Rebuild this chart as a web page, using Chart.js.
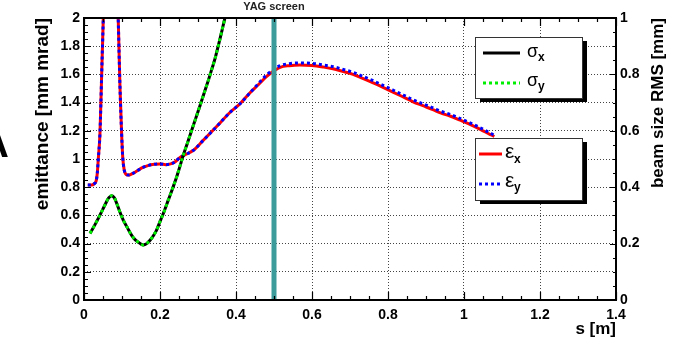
<!DOCTYPE html>
<html>
<head>
<meta charset="utf-8">
<script src="https://cdn.jsdelivr.net/npm/chart.js@4"></script>
<style>
  html, body { margin: 0; padding: 0; background: #fff; }
  #wrap { width: 678px; height: 350px; position: relative; }
</style>
</head>
<body>
<div id="wrap"><canvas id="emitChart"></canvas></div>
<script>
// emittance along the beamline [mm mrad]
var sEps = [0.010, 0.020, 0.027, 0.032, 0.035, 0.0376, 0.042, 0.0466, 0.0508, 0.056,
  0.062, 0.070, 0.078, 0.085, 0.090, 0.0947, 0.099, 0.102, 0.106, 0.111,
  0.117, 0.130, 0.142, 0.155, 0.170, 0.185, 0.200, 0.215, 0.228, 0.240,
  0.252, 0.266, 0.287, 0.313, 0.349, 0.384, 0.410, 0.437, 0.460, 0.480,
  0.500, 0.516, 0.540, 0.568, 0.600, 0.630, 0.655, 0.680, 0.708, 0.735,
  0.761, 0.787, 0.813, 0.840, 0.866, 0.892, 0.918, 0.940, 0.963, 0.990,
  1.024, 1.050, 1.068, 1.080];
var epsX = [0.815, 0.815, 0.825, 0.845, 0.900, 1.000, 1.180, 1.610, 2.000, 2.500,
  2.900, 3.100, 2.900, 2.450, 2.000, 1.510, 1.180, 1.010, 0.920, 0.890,
  0.886, 0.900, 0.920, 0.940, 0.955, 0.962, 0.965, 0.960, 0.965, 0.980,
  1.010, 1.030, 1.060, 1.130, 1.230, 1.330, 1.390, 1.470, 1.530, 1.585,
  1.625, 1.650, 1.662, 1.667, 1.663, 1.652, 1.640, 1.622, 1.600, 1.570,
  1.540, 1.508, 1.475, 1.440, 1.406, 1.378, 1.350, 1.325, 1.305, 1.275,
  1.235, 1.200, 1.175, 1.160];
var epsY = [0.815, 0.815, 0.825, 0.845, 0.900, 1.000, 1.180, 1.610, 2.000, 2.500,
  2.900, 3.100, 2.900, 2.450, 2.000, 1.510, 1.180, 1.010, 0.920, 0.890,
  0.886, 0.900, 0.920, 0.940, 0.955, 0.962, 0.965, 0.960, 0.965, 0.980,
  1.010, 1.030, 1.060, 1.130, 1.230, 1.330, 1.390, 1.470, 1.538, 1.595,
  1.637, 1.662, 1.676, 1.681, 1.678, 1.667, 1.655, 1.637, 1.615, 1.585,
  1.555, 1.522, 1.489, 1.454, 1.420, 1.391, 1.363, 1.338, 1.317, 1.287,
  1.246, 1.211, 1.185, 1.168];

// rms beam size [mm]
var sSig = [0.016, 0.030, 0.042, 0.055, 0.065, 0.073, 0.080, 0.086, 0.095, 0.103,
  0.115, 0.125, 0.135, 0.143, 0.150, 0.156, 0.165, 0.178, 0.190, 0.200,
  0.211, 0.222, 0.233, 0.244, 0.252, 0.261, 0.272, 0.283, 0.294, 0.305,
  0.316, 0.327, 0.336, 0.345, 0.358, 0.371, 0.380];
var sigX = [0.236, 0.270, 0.301, 0.337, 0.362, 0.370, 0.362, 0.343, 0.310, 0.284,
  0.254, 0.230, 0.213, 0.205, 0.198, 0.195, 0.200, 0.219, 0.245, 0.278,
  0.315, 0.355, 0.395, 0.437, 0.472, 0.512, 0.556, 0.600, 0.644, 0.688,
  0.733, 0.778, 0.817, 0.857, 0.927, 1.000, 1.045];
var sigY = [0.236, 0.270, 0.301, 0.337, 0.362, 0.370, 0.362, 0.343, 0.310, 0.284,
  0.254, 0.230, 0.213, 0.205, 0.198, 0.195, 0.200, 0.219, 0.245, 0.278,
  0.315, 0.355, 0.395, 0.437, 0.472, 0.512, 0.556, 0.600, 0.644, 0.688,
  0.733, 0.778, 0.817, 0.857, 0.927, 1.000, 1.045];

var yagPos = 0.5; // YAG screen position [m]

var FONT = '"Liberation Sans", Arial, Helvetica, sans-serif';

function toPoints(xs, ys) {
  return xs.map(function (x, i) { return { x: x, y: ys[i] }; });
}

// ROOT-like labels: 0, 0.2, ... 1, 1.2 (no trailing zeros)
function shortLabel(v) {
  return String(Math.round(v * 10) / 10);
}

var tickFont = { family: FONT, size: 14, weight: 'bold' };
var dottedGrid = { color: '#444', lineWidth: 1, drawTicks: false };

// two framed legend boxes with a drop shadow, ROOT style
var legendBoxes = [
  { x: 475, y: 37, w: 107, h: 61, items: [
    { ds: 0, x1: 483, x2: 520, y: 53, sym: 'σ', sub: 'x', size: 18, tx: 527, base: 57, subx: 538, subBase: 61 },
    { ds: 1, x1: 483, x2: 520, y: 83, sym: 'σ', sub: 'y', size: 18, tx: 527, base: 86, subx: 538, subBase: 90 }
  ] },
  { x: 475, y: 138, w: 107, h: 62, items: [
    { ds: 2, x1: 479, x2: 502, y: 154, sym: 'ε', sub: 'x', size: 21, tx: 505, base: 158, subx: 514, subBase: 163 },
    { ds: 3, x1: 479, x2: 500, y: 184, sym: 'ε', sub: 'y', size: 21, tx: 505, base: 187, subx: 514, subBase: 191 }
  ] }
];

var framePlugin = {
  id: 'rootFrame',
  afterDatasetsDraw: function (chart) {
    var ctx = chart.ctx, a = chart.chartArea;
    var sx = chart.scales.x, sy = chart.scales.y, sy2 = chart.scales.y2;
    var i, p, len;
    ctx.save();

    // screen marker
    var xm = sx.getPixelForValue(yagPos);
    ctx.fillStyle = '#3c9c9c';
    ctx.fillRect(xm - 2.5, a.top, 5, a.bottom - a.top);

    // frame
    ctx.strokeStyle = '#000';
    ctx.lineWidth = 2;
    ctx.strokeRect(a.left, a.top, a.right - a.left, a.bottom - a.top);

    // tick marks pointing inwards
    ctx.lineWidth = 1.2;
    ctx.beginPath();
    for (i = 0; i <= 28; i++) {
      p = Math.round(sx.getPixelForValue(i * 0.05)) + 0.5;
      len = i % 4 === 0 ? 8 : 4;
      ctx.moveTo(p, a.bottom); ctx.lineTo(p, a.bottom - len);
      ctx.moveTo(p, a.top); ctx.lineTo(p, a.top + len);
    }
    for (i = 0; i <= 40; i++) {
      p = Math.round(sy.getPixelForValue(i * 0.05)) + 0.5;
      len = i % 4 === 0 ? 7 : 4;
      ctx.moveTo(a.left, p); ctx.lineTo(a.left + len, p);
    }
    for (i = 0; i <= 20; i++) {
      p = Math.round(sy2.getPixelForValue(i * 0.05)) + 0.5;
      len = i % 4 === 0 ? 6 : 3;
      ctx.moveTo(a.right, p); ctx.lineTo(a.right - len, p);
    }
    ctx.stroke();

    // legends
    legendBoxes.forEach(function (box) {
      ctx.fillStyle = '#000';
      ctx.fillRect(box.x + 5, box.y + 4, box.w, box.h);
      ctx.fillStyle = '#fff';
      ctx.fillRect(box.x, box.y, box.w, box.h);
      ctx.strokeStyle = '#333';
      ctx.lineWidth = 1;
      ctx.strokeRect(box.x + 0.5, box.y + 0.5, box.w, box.h);
      box.items.forEach(function (it) {
        var ds = chart.data.datasets[it.ds];
        ctx.save();
        ctx.strokeStyle = ds.borderColor;
        ctx.lineWidth = ds.borderWidth;
        ctx.setLineDash(ds.borderDash || []);
        ctx.beginPath();
        ctx.moveTo(it.x1, it.y); ctx.lineTo(it.x2, it.y);
        ctx.stroke();
        ctx.restore();
        ctx.fillStyle = '#000';
        ctx.textAlign = 'left';
        ctx.textBaseline = 'alphabetic';
        ctx.font = it.size + 'px ' + FONT;
        ctx.fillText(it.sym, it.tx, it.base);
        ctx.font = 'bold 12px ' + FONT;
        ctx.fillText(it.sub, it.subx, it.subBase);
      });
    });

    // axis titles
    ctx.fillStyle = '#000';
    ctx.textBaseline = 'alphabetic';
    ctx.save();
    ctx.translate(48, a.top);
    ctx.rotate(-Math.PI / 2);
    ctx.textAlign = 'right';
    ctx.font = 'bold 19px ' + FONT;
    ctx.fillText('emittance [mm mrad]', 0, 0);
    ctx.restore();

    ctx.save();
    ctx.translate(663, a.top);
    ctx.rotate(-Math.PI / 2);
    ctx.textAlign = 'right';
    ctx.font = 'bold 17px ' + FONT;
    ctx.fillText('beam size RMS [mm]', 0, 0);
    ctx.restore();

    ctx.textAlign = 'right';
    ctx.font = 'bold 17px ' + FONT;
    ctx.fillText('s [m]', a.right, 334);

    ctx.textAlign = 'center';
    ctx.textBaseline = 'middle';
    ctx.fillStyle = '#222';
    ctx.font = 'bold 11px ' + FONT;
    ctx.fillText('YAG screen', xm, 7);

    // panel letter
    ctx.textAlign = 'left';
    ctx.textBaseline = 'alphabetic';
    ctx.fillStyle = '#000';
    ctx.font = 'bold 40px ' + FONT;
    ctx.fillText('A', -20, 157);

    ctx.restore();
  }
};

var ctx = document.getElementById('emitChart').getContext('2d');
var chart = new Chart(ctx, {
  type: 'line',
  data: {
    datasets: [
      { label: 'σx', data: toPoints(sSig, sigX), yAxisID: 'y2', borderColor: '#000000', borderWidth: 3, order: 1 },
      { label: 'σy', data: toPoints(sSig, sigY), yAxisID: 'y2', borderColor: '#00ee00', borderWidth: 3, borderDash: [3, 3], order: 0 },
      { label: 'εx', data: toPoints(sEps, epsX), yAxisID: 'y', borderColor: '#ff0000', borderWidth: 3, order: 3 },
      { label: 'εy', data: toPoints(sEps, epsY), yAxisID: 'y', borderColor: '#0000ff', borderWidth: 3, borderDash: [3, 3], order: 2 }
    ]
  },
  options: {
    responsive: true,
    maintainAspectRatio: false,
    animation: false,
    layout: { padding: { top: 18 } },
    elements: {
      point: { radius: 0 },
      line: { cubicInterpolationMode: 'monotone', fill: false }
    },
    plugins: { legend: { display: false }, tooltip: { enabled: false } },
    scales: {
      x: {
        type: 'linear', min: 0, max: 1.4,
        ticks: { stepSize: 0.2, padding: 7, color: '#000', font: tickFont, maxRotation: 0, autoSkip: false, callback: shortLabel },
        grid: dottedGrid,
        border: { display: false, dash: [1, 2] },
        afterFit: function (s) { s.height = 50; }
      },
      y: {
        position: 'left', min: 0, max: 2,
        ticks: { stepSize: 0.2, padding: 4, color: '#000', font: tickFont, autoSkip: false, callback: shortLabel },
        grid: dottedGrid,
        border: { display: false, dash: [1, 2] },
        afterFit: function (s) { s.width = 84; }
      },
      y2: {
        position: 'right', min: 0, max: 1,
        ticks: { stepSize: 0.2, padding: 4, color: '#000', font: tickFont, autoSkip: false, callback: shortLabel },
        grid: { display: false, drawTicks: false },
        border: { display: false },
        afterFit: function (s) { s.width = 62; }
      }
    }
  },
  plugins: [framePlugin]
});
</script>
</body>
</html>
